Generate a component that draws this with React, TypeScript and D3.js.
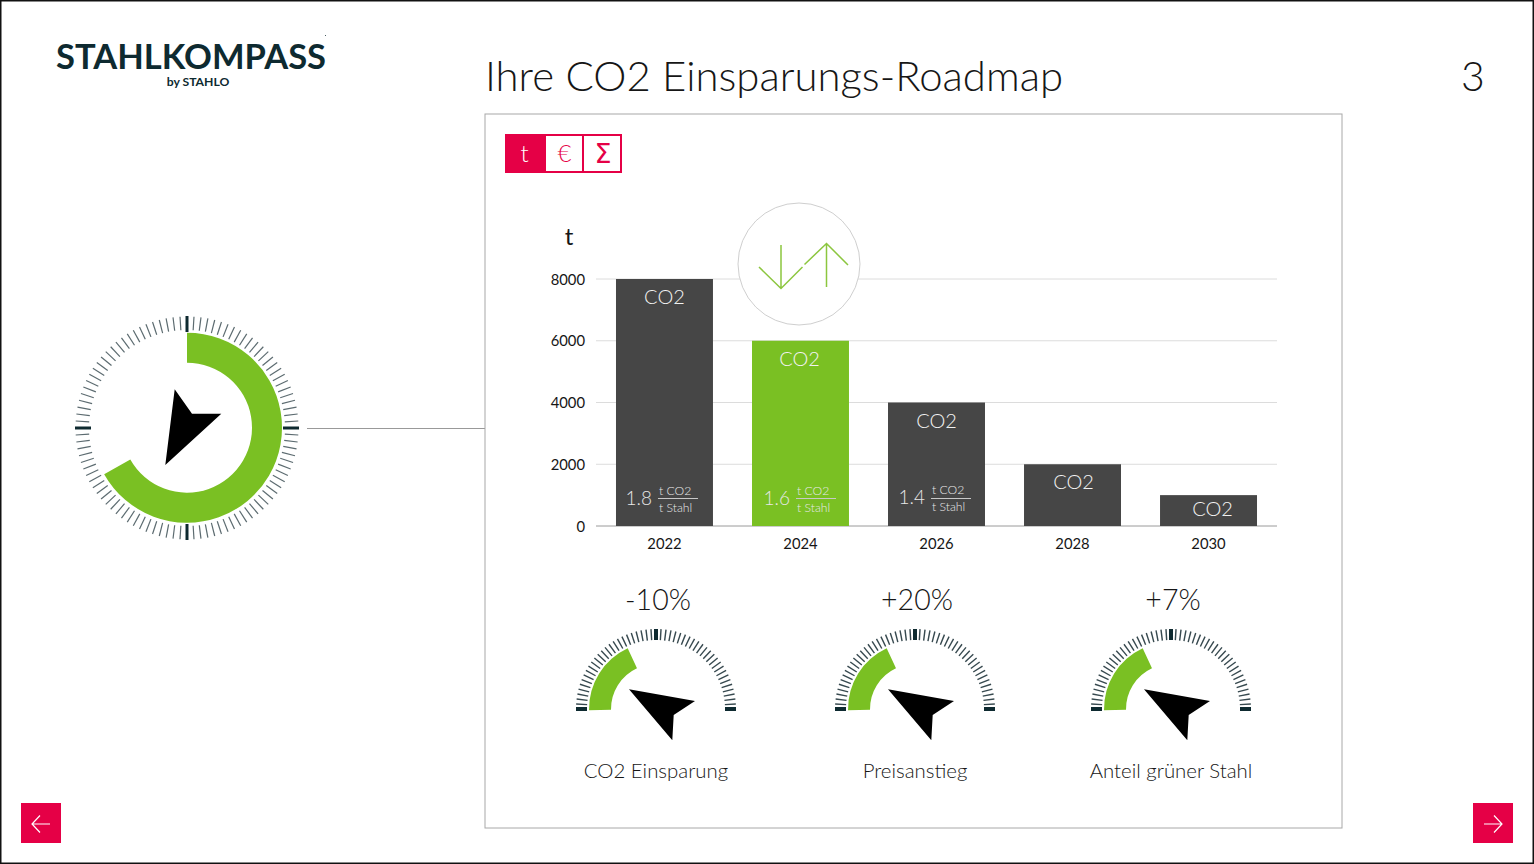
import React from "react";
import * as d3 from "d3";

const years = ["2022", "2024", "2026", "2028", "2030"];
const co2Tonnes = [8000, 6000, 4000, 2000, 1000];
const highlightYear = "2024";
const barLabel = "CO2";
const labelOffsets = [18, 18, 18, 18, 14];
const labelShifts = [0, -1, 0, 1, 4];
const intensityValues = ["1.8", "1.6", "1.4"];
const intensityShifts = [43, 45, 44];
const intensityRise = [0, 0, 1];
const yTicks = [0, 2000, 4000, 6000, 8000];
const gaugeChanges = ["-10%", "+20%", "+7%"];
const gaugeNames = ["CO2 Einsparung", "Preisanstieg", "Anteil grüner Stahl"];
const gaugeCenters = [656, 915, 1171];
const gaugeFillDegrees = 65;
const mainFillDegrees = 240.7;
const modes = ["t", "€", "Σ"];

const FONT = "Lato, 'Open Sans', sans-serif";
const GREEN = "#7ac023";
const RED = "#e50046";
const BAR = "#464646";
const INK = "#161616";
const DARK = "#0e2a30";
const TICK = "#5c6b70";

const rad = (deg: number) => (deg * Math.PI) / 180;
const polar = (cx: number, cy: number, r: number, deg: number) => [
  cx + r * Math.sin(rad(deg)),
  cy - r * Math.cos(rad(deg)),
];

function Ticks({ cx, cy, r0, r1, count, from, majors, majorR0, majorR1, w, majorW, color }: any) {
  return (
    <g>
      {d3.range(count).map((k: number) => {
        const a = from + k * 3.6;
        const isMajor = majors.some((m: number) => Math.abs(m - a) < 0.01);
        const [x1, y1] = polar(cx, cy, isMajor ? majorR0 : r0, a);
        const [x2, y2] = polar(cx, cy, isMajor ? majorR1 : r1, a);
        return (
          <line key={k} x1={x1} y1={y1} x2={x2} y2={y2}
            stroke={isMajor ? DARK : color}
            strokeWidth={isMajor ? majorW : w} />
        );
      })}
    </g>
  );
}

function SmallGauge({ cx, change, name }: any) {
  const cy = 709;
  const d = d3.arc()({
    innerRadius: 45,
    outerRadius: 67,
    startAngle: rad(-91),
    endAngle: rad(-90 + gaugeFillDegrees),
  }) as string;
  const arrow = [[-27, -19.7], [39, -8], [17.7, 6], [16.3, 31.3]]
    .map((p) => `${cx + p[0]},${cy + p[1]}`).join(" ");
  return (
    <g>
      <text x={cx + 2} y={610} textAnchor="middle" fontSize={28.5} fontFamily={FONT} fontWeight={300} fill={INK}>{change}</text>
      <Ticks cx={cx} cy={cy} r0={69} r1={80} count={51} from={-90} majors={[-90, 0, 90]} majorR0={69} majorR1={80} w={1.4} majorW={4} color="#37494f" />
      <path d={d} transform={`translate(${cx},${cy})`} fill={GREEN} />
      <polygon points={arrow} fill="#000" />
      <text x={cx} y={778} textAnchor="middle" fontSize={20.4} fontFamily={FONT} fontWeight={300} fill={INK}>{name}</text>
    </g>
  );
}

export default function App() {
  const x = d3.scaleBand<string>().domain(years).range([596, 1277]).paddingInner(0.287).paddingOuter(0.147);
  const y = d3.scaleLinear().domain([0, 8000]).range([526, 279]);
  const main = d3.arc()({
    innerRadius: 65,
    outerRadius: 95,
    startAngle: 0,
    endAngle: rad(mainFillDegrees),
  }) as string;

  return (
    <svg width={1534} height={864} viewBox="0 0 1534 864" style={{ position: "absolute", left: 0, top: 0, display: "block" }}>
      <rect x={0.75} y={0.75} width={1532.5} height={862.5} fill="#fff" stroke="#111" strokeWidth={1.5} />

      <text x={56} y={68.5} fontFamily={FONT} fontWeight={700} fontSize={35} fill={DARK} textLength={270} lengthAdjust="spacingAndGlyphs">STAHLKOMPASS</text>
      <circle cx={325.5} cy={35.5} r={0.5} fill={DARK} />
      <text x={198} y={86} textAnchor="middle" fontFamily={FONT} fontWeight={700} fontSize={12.2} fill={DARK}>by STAHLO</text>
      <text x={485} y={91} fontFamily={FONT} fontWeight={300} fontSize={41} fill={INK} textLength={578} lengthAdjust="spacingAndGlyphs">Ihre CO2 Einsparungs-Roadmap</text>
      <text x={1473} y={91} textAnchor="middle" fontFamily={FONT} fontWeight={300} fontSize={41} fill={INK}>3</text>

      <Ticks cx={187} cy={428} r0={98} r1={111.5} count={100} from={0} majors={[0, 90, 180, 270]} majorR0={96} majorR1={112} w={1.2} majorW={3} color={TICK} />
      <path d={main} transform="translate(187,427.7)" fill={GREEN} />
      <polygon points="174.7,389.3 192,413.7 221.3,413.7 165.3,465" fill="#000" />
      <line x1={307} y1={428.5} x2={485} y2={428.5} stroke="#999" strokeWidth={1} />

      <rect x={485} y={114} width={857} height={714} fill="#fff" stroke="#a8a8a8" strokeWidth={1} />

      <rect x={506} y={135} width={115} height={37} fill="#fff" stroke={RED} strokeWidth={2} />
      <rect x={505} y={134} width={41} height={39} fill={RED} />
      <line x1={583} y1={134} x2={583} y2={173} stroke={RED} strokeWidth={2} />
      {modes.map((m, i) => (
        <text key={m} x={[524.5, 564.5, 603][i]} y={i === 2 ? 163 : 162} textAnchor="middle"
          fontFamily={i === 2 ? "'DejaVu Sans', sans-serif" : FONT}
          fontSize={i === 2 ? 27 : 24} fontWeight={i === 2 ? 400 : 300} fill={i === 0 ? "#fff" : RED}>{m}</text>
      ))}

      <text x={569} y={245} textAnchor="middle" fontFamily={FONT} fontWeight={400} fontSize={24} fill={INK}>t</text>
      {yTicks.map((t) => (
        <g key={t}>
          <line x1={596} x2={1277} y1={y(t)} y2={y(t)} stroke={t === 0 ? "#9a9a9a" : "#dcdcdc"} strokeWidth={1} />
          <text x={585} y={y(t) + 5.5} textAnchor="end" fontFamily={FONT} fontSize={14.8} fill={INK}>{t}</text>
        </g>
      ))}

      {years.map((yr, i) => {
        const bx = x(yr) as number;
        const top = y(co2Tonnes[i]);
        const mid = bx + x.bandwidth() / 2;
        const iv = intensityValues[i];
        const fx = bx + intensityShifts[i];
        const rise = intensityRise[i];
        return (
          <g key={yr}>
            <rect x={bx} y={top} width={x.bandwidth()} height={y(0) - top} fill={yr === highlightYear ? GREEN : BAR} />
            <text x={mid + labelShifts[i]} y={top + labelOffsets[i] + 7} textAnchor="middle" fontFamily={FONT} fontWeight={300} fontSize={20} fill="#f2f2f2">{barLabel}</text>
            {iv && (
              <g fill="#e8e8e8" fontFamily={FONT} fontWeight={300}>
                <text x={fx - 7} y={505 - rise} textAnchor="end" fontSize={19}>{iv}</text>
                <text x={fx} y={495 - rise} fontSize={12.2}>t CO2</text>
                <line x1={fx - 1} x2={fx + 39} y1={498.5} y2={498.5} stroke="#c8c8c8" strokeWidth={1} />
                <text x={fx} y={512 - rise} fontSize={12.2}>t Stahl</text>
              </g>
            )}
            <text x={mid} y={549} textAnchor="middle" fontFamily={FONT} fontSize={14.8} fill={INK}>{yr}</text>
          </g>
        );
      })}

      <circle cx={799} cy={264} r={61} fill="#fff" stroke="#cfcfcf" strokeWidth={1} />
      <g fill="none" stroke="#8cc63f" strokeWidth={1.5}>
        <path d="M781,245 V288.5 M759,267 L781,288.5 L802.5,267" />
        <path d="M804.5,264.5 L826.5,243.5 L848,265 M826.5,243.5 V287" />
      </g>

      {gaugeCenters.map((c, i) => (
        <SmallGauge key={c} cx={c} change={gaugeChanges[i]} name={gaugeNames[i]} />
      ))}

      <rect x={21} y={803} width={40} height={40} fill={RED} />
      <path d="M50,824 H32 M40,815.5 L32,824 L40,832.5" fill="none" stroke="#fff" strokeWidth={1.2} />
      <rect x={1473} y={803} width={40} height={40} fill={RED} />
      <path d="M1484,824 H1502 M1494,815.5 L1502,824 L1494,832.5" fill="none" stroke="#fff" strokeWidth={1.2} />
    </svg>
  );
}
